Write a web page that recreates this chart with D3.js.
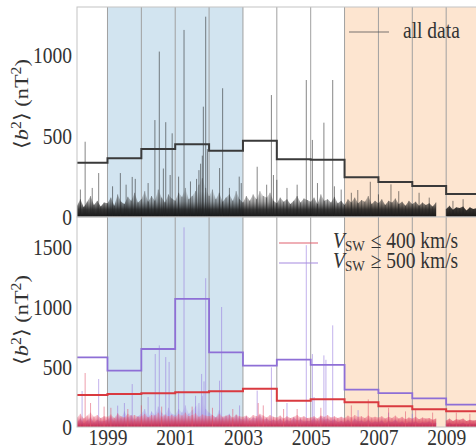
<!DOCTYPE html>
<html><head><meta charset="utf-8">
<script src="https://cdn.jsdelivr.net/npm/d3@7/dist/d3.min.js"></script>
<style>body{margin:0;background:#fff}svg{display:block}
svg text{font-family:"Liberation Serif","DejaVu Serif",serif !important;}</style>
</head><body>
<svg id="c" width="476" height="447"></svg>
<script>
// ---------------- data ----------------
const binEdges = [1998.1,1999,2000,2001,2002,2003,2004,2005,2006,2007,2008,2009,2009.94];
const allMean  = [336,363,421,450,410,472,357,355,246,217,192,142];
const slowMean = [267,275,281,289,297,319,219,231,206,172,147,131];
const fastMean = [581,469,650,1067,622,511,561,517,311,283,239,186];

const floorStart = 1998.1, floorStep = 0.1;
const allFloor = [
  70,110,60,95,130,75,100,65,90,
  85,120,70,140,95,80,125,100,150,90,
  110,160,95,130,100,170,120,90,140,115,
  100,150,125,180,110,130,160,200,240,180,
  130,170,110,150,95,120,140,100,160,110,
  90,130,100,140,110,160,130,120,150,100,
  85,120,95,110,80,100,130,90,115,105,
  95,120,80,140,100,110,90,125,85,100,
  75,110,90,120,85,105,95,130,80,100,
  85,110,75,100,90,115,80,95,70,100,
  80,95,70,90,75,85,65,90,null,null,
  50,70,45,60,55,65,40,60,50,55];
const slowFloor = [
  80,110,70,95,120,85,100,75,90,
  85,105,75,115,90,80,110,95,100,85,
  90,110,80,100,95,120,85,105,90,100,
  85,110,95,120,90,100,115,85,105,95,
  90,100,80,110,85,95,100,80,105,90,
  85,95,75,100,90,110,95,80,100,85,
  80,95,70,90,75,85,100,80,90,75,
  80,90,70,95,85,100,80,90,75,85,
  75,95,80,100,85,90,75,95,80,85,
  80,90,70,85,75,95,70,85,65,80,
  70,85,65,80,70,75,60,70,null,null,
  55,70,50,65,60,70,50,60,55,60];
const fastFloor = [
  40,70,30,55,80,35,60,45,50,
  60,90,50,110,70,130,80,100,60,90,
  110,150,80,130,100,170,120,90,160,110,
  100,150,120,180,110,140,170,200,260,150,
  120,100,80,140,70,90,110,60,100,70,
  60,90,50,80,70,100,60,70,50,60,
  50,70,40,60,45,80,55,65,45,50,
  50,75,45,90,60,70,50,65,40,50,
  40,60,35,70,45,55,40,60,35,45,
  40,55,30,50,40,60,35,45,30,40,
  35,45,30,40,35,45,30,35,null,null,
  25,35,20,30,25,35,20,30,25,30];

const allSpikes = [[1998.34,466],[1998.55,180],[1998.74,272],[1998.2,170],[1999.38,272],[1999.55,200],
  [1999.73,248],[1999.82,236],[1999.15,190],[2000.2,210],[2000.40,600],[2000.53,1024],[2000.65,300],
  [2000.72,587],[2000.91,518],[2000.85,260],[2001.1,250],[2001.26,1158],[2001.45,220],[2001.63,236],
  [2001.75,330],[2001.80,380],[2001.83,683],[2001.90,1240],[2001.95,420],[2001.7,290],[2002.31,303],
  [2002.40,797],[2002.6,180],[2002.89,250],[2002.95,210],[2003.42,311],[2003.7,200],[2003.84,755],
  [2003.9,260],[2004.0,230],[2004.3,180],[2004.60,200],[2004.87,848],[2005.05,477],[2005.2,210],
  [2005.39,584],[2005.65,848],[2005.70,190],[2005.9,170],[2006.2,150],[2006.39,167],[2006.76,218],
  [2007.0,140],[2007.37,202],[2007.6,160],[2008.2,150],[2008.5,120],[2009.2,100],[2009.5,110]];
const slowSpikes = [[1998.34,450],[1998.5,200],[1998.9,170],[1999.1,160],[1999.6,150],[2000.0,180],
  [2000.6,170],[2001.5,170],[2002.1,160],[2002.7,150],[2003.45,200],[2003.6,180],[2004.2,150],
  [2004.6,150],[2005.3,160],[2006.2,180],[2006.7,230],[2007.3,160],[2007.8,130],[2008.1,140],
  [2008.6,120],[2009.3,120],[2009.7,110]];
const fastSpikes = [[1998.74,400],[1998.25,300],[1999.3,178],[1999.73,358],[1999.5,200],[2000.2,250],
  [2000.41,608],[2000.53,680],[2000.72,583],[2000.82,542],[2001.1,300],[2001.26,1664],[2001.6,260],
  [2001.78,442],[2001.85,380],[2001.90,1240],[2002.31,386],[2002.37,1000],[2002.9,180],[2003.42,303],
  [2003.84,497],[2004.3,200],[2004.87,1515],[2005.05,608],[2005.1,250],[2005.39,597],[2005.45,560],
  [2005.65,847],[2006.4,140],[2007.3,120],[2008.0,110]];

const xTicks = [1999,2001,2003,2005,2007,2009];
const yearLines = [1999,2000,2001,2002,2003,2004,2005,2006,2007,2008,2009];
const topTicks = [0,500,1000];
const botTicks = [0,500,1000,1500];

// ---------------- layout ----------------
const svg = d3.select("#c");
const FS = 19.5, SY = 1.15;
const L = 77, R = 478, T0 = 7, M = 217, B = 427;
const x = d3.scaleLinear([1998.1, 2009.94], [L, R]);
const yTop = d3.scaleLinear([0, 1300], [M, T0]);
const yBot = d3.scaleLinear([0, 1750], [B, M]);

const defs = svg.append("defs");
defs.append("clipPath").attr("id","cpTop").append("rect").attr("x",L).attr("y",T0).attr("width",R-L).attr("height",M-T0);
defs.append("clipPath").attr("id","cpBot").append("rect").attr("x",L).attr("y",M).attr("width",R-L).attr("height",B-M);
function grad(id, y, vTop, stops){
  const g = defs.append("linearGradient").attr("id",id).attr("gradientUnits","userSpaceOnUse")
    .attr("x1",0).attr("x2",0).attr("y1",y(0)).attr("y2",y(vTop));
  stops.forEach(s=>g.append("stop").attr("offset",s[0]).attr("stop-color",s[1]).attr("stop-opacity",s[2]));
}
grad("gAll", yTop, 160, [[0,"#0a0a0a",0.95],[0.3,"#151515",0.85],[0.6,"#333",0.45],[1,"#555",0.12]]);
grad("gSlow", yBot, 130, [[0,"#c2183a",0.9],[0.35,"#d83a58",0.7],[0.7,"#ee7088",0.35],[1,"#f5a0b0",0.1]]);
grad("gFast", yBot, 200, [[0,"#8660d8",0.55],[0.4,"#9a7ee0",0.35],[1,"#b8a2ea",0.08]]);

const floorT = i => floorStart + floorStep * i;
function stepPts(vals){ const p=[]; vals.forEach((v,i)=>{p.push([binEdges[i],v]);p.push([binEdges[i+1],v]);}); return p; }

function panel(clip, y, cfg){
  const g = svg.append("g").attr("clip-path",`url(#${clip})`);
  const [y0, y1] = [y.range()[0], y.range()[1]];
  g.append("rect").attr("x",x(1999)).attr("y",y1).attr("width",x(2003)-x(1999)).attr("height",y0-y1).attr("fill","#d2e4f0");
  g.append("rect").attr("x",x(2006)).attr("y",y1).attr("width",R-x(2006)).attr("height",y0-y1).attr("fill","#fde5d0");
  g.selectAll("line.yr").data(yearLines).join("line").attr("class","yr")
    .attr("x1",d=>x(d)).attr("x2",d=>x(d)).attr("y1",y1).attr("y2",y0)
    .attr("stroke","#a0a0a0").attr("stroke-width",1);
  cfg.series.forEach(s=>{
    const area = d3.area().defined(d=>d!=null).x((d,i)=>x(floorT(i))).y0(y(0)).y1(d=>y(d));
    g.append("path").datum(s.floor).attr("d",area).attr("fill",`url(#${s.grad})`);
    const hairs = s.floor.map((v,i)=>[floorT(i),v]).filter(d=>d[1]!=null);
    g.selectAll(null).data(hairs).join("line")
      .attr("x1",d=>x(d[0])).attr("x2",d=>x(d[0])).attr("y1",y(0)).attr("y2",d=>y(d[1]))
      .attr("stroke",s.spike).attr("stroke-opacity",s.op*0.7).attr("stroke-width",1);
    g.selectAll(null).data(s.spikes).join("line")
      .attr("x1",d=>x(d[0])).attr("x2",d=>x(d[0])).attr("y1",y(0)).attr("y2",d=>y(d[1]))
      .attr("stroke",s.spike).attr("stroke-opacity",s.op).attr("stroke-width",1);
  });
  cfg.means.forEach(m=>{
    g.append("path").datum(stepPts(m.vals)).attr("d",d3.line().x(d=>x(d[0])).y(d=>y(d[1])))
      .attr("fill","none").attr("stroke",m.color).attr("stroke-width",m.w);
  });
  svg.append("rect").attr("x",L).attr("y",y1).attr("width",R-L+5).attr("height",y0-y1)
    .attr("fill","none").attr("stroke","#c4c4c4").attr("stroke-width",1);
}

panel("cpTop", yTop, {
  series:[{floor:allFloor, spikes:allSpikes, grad:"gAll", spike:"#222", op:0.55}],
  means:[{vals:allMean, color:"#3a3a3a", w:2}]
});
panel("cpBot", yBot, {
  series:[{floor:fastFloor, spikes:fastSpikes, grad:"gFast", spike:"#9a7ee0", op:0.6},
          {floor:slowFloor, spikes:slowSpikes, grad:"gSlow", spike:"#e0506a", op:0.55}],
  means:[{vals:fastMean, color:"#8e6fd6", w:1.8},{vals:slowMean, color:"#d93a40", w:2}]
});

// ---------------- axes ----------------
function styleAxis(g){
  g.attr("font-family",null);
  g.select(".domain").remove();
  g.selectAll("text").attr("font-size",FS).attr("fill","#333")
    .attr("transform",`scale(1,${SY})`);
}
svg.append("g").attr("transform",`translate(${L},0)`)
  .call(d3.axisLeft(yTop).tickValues(topTicks).tickFormat(d3.format("d")).tickSize(0).tickPadding(5)).call(styleAxis);
svg.append("g").attr("transform",`translate(${L},0)`)
  .call(d3.axisLeft(yBot).tickValues(botTicks).tickFormat(d3.format("d")).tickSize(0).tickPadding(5)).call(styleAxis);
svg.append("g").attr("transform",`translate(0,${B})`)
  .call(d3.axisBottom(x).tickValues(xTicks).tickFormat(d3.format("d")).tickSize(0).tickPadding(1.5)).call(styleAxis);

function ylabel(cx, cy){
  const t = svg.append("text").attr("transform",`translate(${cx},${cy}) scale(1,${SY}) rotate(-90)`)
    .attr("text-anchor","middle").attr("font-size",FS).attr("fill","#333");
  t.append("tspan").text("\u27E8");
  t.append("tspan").attr("font-style","italic").text("b");
  t.append("tspan").attr("font-size",FS*0.7).attr("dy",-7).text("2");
  t.append("tspan").attr("dy",7).text("\u27E9 (nT");
  t.append("tspan").attr("font-size",FS*0.7).attr("dy",-7).text("2");
  t.append("tspan").attr("dy",7).text(")");
}
ylabel(28, 104);
ylabel(28, 320);

// ---------------- legends ----------------
svg.append("line").attr("x1",349).attr("x2",389).attr("y1",32).attr("y2",32).attr("stroke","#555").attr("stroke-opacity",0.8).attr("stroke-width",1.2);
svg.append("text").attr("transform",`translate(403,38) scale(1,${SY})`).attr("font-size",FS).attr("fill","#333").text("all data");

const legB = [{c:"#e0606e", y:243, op:"\u2264 400 km/s"},{c:"#a68ae0", y:263, op:"\u2265 500 km/s"}];
legB.forEach(d=>{
  svg.append("line").attr("x1",279).attr("x2",318).attr("y1",d.y).attr("y2",d.y).attr("stroke",d.c).attr("stroke-width",1.2);
  const t = svg.append("text").attr("transform",`translate(333,${d.y+5}) scale(1,${SY})`).attr("font-size",FS).attr("fill","#333");
  t.append("tspan").attr("font-style","italic").text("V");
  t.append("tspan").attr("font-size",FS*0.68).attr("dy",3).text("SW");
  t.append("tspan").attr("dy",-3).attr("dx",1).text(" " + d.op);
});
</script>
</body></html>
